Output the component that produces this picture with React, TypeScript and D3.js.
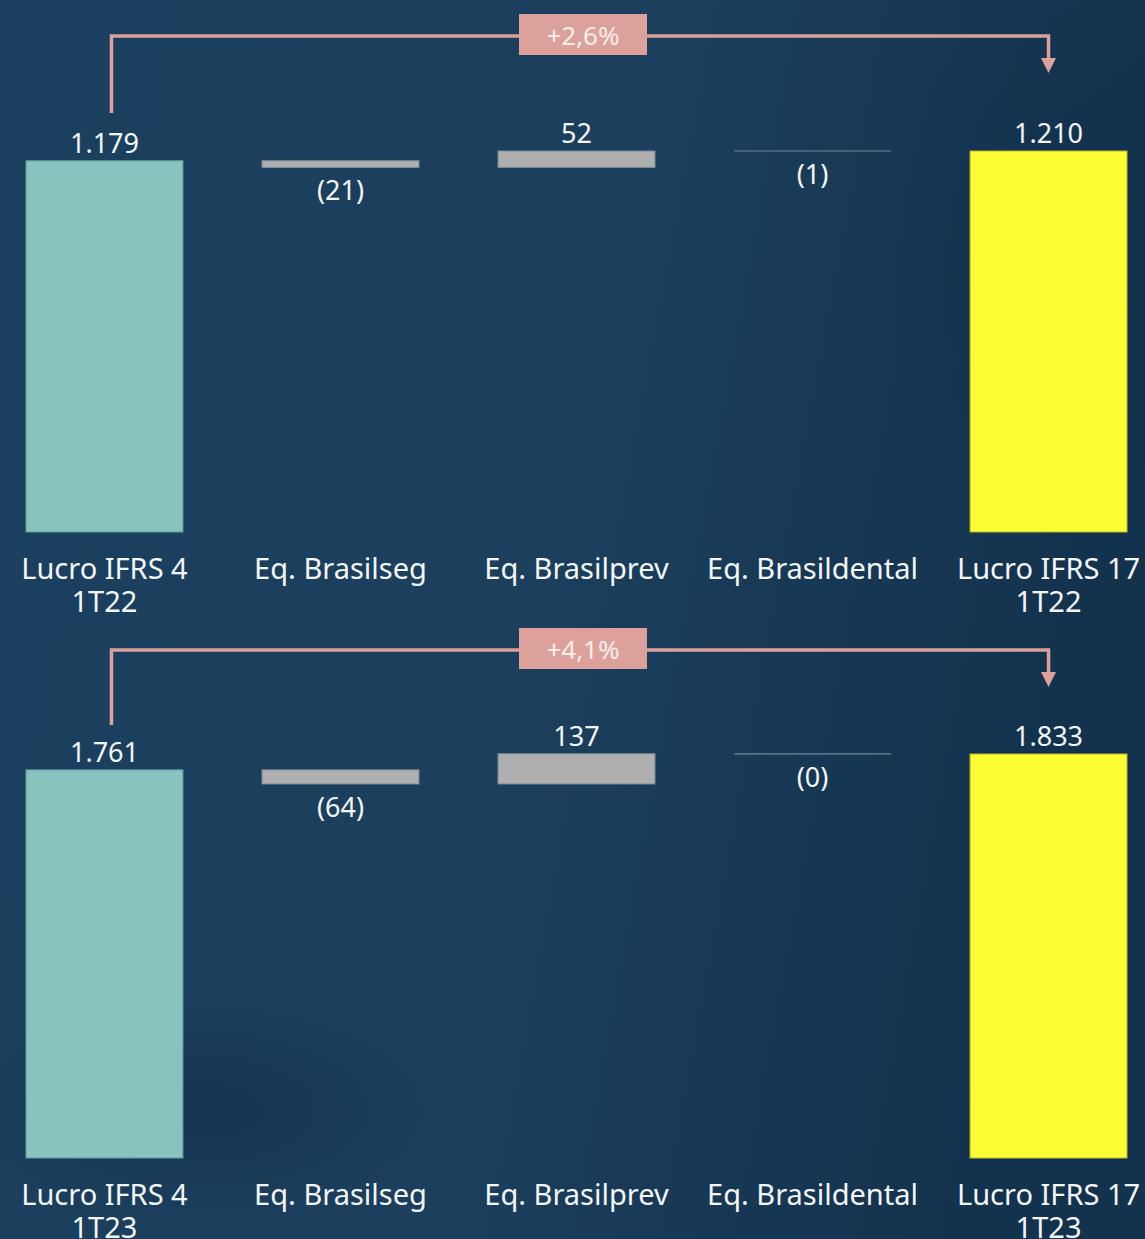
import React, { useMemo } from 'react'
import * as d3 from 'd3'

const categories = ['Lucro IFRS 4', 'Eq. Brasilseg', 'Eq. Brasilprev', 'Eq. Brasildental', 'Lucro IFRS 17']
const kinds = ['total', 'delta', 'delta', 'delta', 'total']
const periods = ['1T22', '1T23']
const values1T22 = [1179, -21, 52, -1, 1210]
const values1T23 = [1761, -64, 137, -0.4, 1833]
const changeLabels = ['+2,6%', '+4,1%']

const width = 1145
const height = 1239

// layout of each waterfall panel (pixels)
const panels = [
  { period: periods[0], values: values1T22, change: changeLabels[0], base: 532, top: 151, arrowY: 36, arrowStart: 113, arrowTip: 73, labelY: 579 },
  { period: periods[1], values: values1T23, change: changeLabels[1], base: 1158, top: 754, arrowY: 650, arrowStart: 725, arrowTip: 687, labelY: 1205 }
]

const colors = {
  start: '#89c3bd',
  startStroke: '#5e9c9c',
  end: '#fdfd33',
  endStroke: '#b9b92a',
  delta: '#afafaf',
  deltaStroke: '#7f8e9a',
  arrow: '#dca19b',
  text: '#f4f6f8'
}

const ptBR = d3.formatLocale({ decimal: ',', thousands: '.', grouping: [3], currency: ['R$ ', ''] })
const fmt = ptBR.format(',.0f')

function formatValue(v: number) {
  return v < 0 ? `(${fmt(Math.abs(v))})` : fmt(v)
}

const font = '"Noto Sans", "Open Sans", sans-serif'

function Panel({ panel }: { panel: typeof panels[number] }) {
  const x = useMemo(() => d3.scaleBand<string>().domain(categories).range([26, 1127]).paddingInner(0.335).paddingOuter(0), [])

  const chart = useMemo(() => {
    const max = d3.max(panel.values, (v, i) => (kinds[i] === 'total' ? v : 0)) as number
    const y = d3.scaleLinear().domain([0, max]).range([panel.base, panel.top])
    let running = 0
    const bars = panel.values.map((v, i) => {
      let y0: number
      let y1: number
      if (kinds[i] === 'total') {
        y0 = 0
        y1 = v
        running = v
      } else {
        y0 = running
        y1 = running + v
        running = y1
      }
      return { category: categories[i], kind: kinds[i], value: v, y0, y1, index: i }
    })
    return { y, bars }
  }, [panel])

  const bw = x.bandwidth()
  const cx = (c: string) => (x(c) as number) + bw / 2
  const startX = cx(categories[0]) + 7
  const endX = cx(categories[categories.length - 1])
  const midX = (startX + endX) / 2 + 3

  return (
    <g>
      {chart.bars.map(b => {
        const yTop = chart.y(Math.max(b.y0, b.y1))
        const yBot = chart.y(Math.min(b.y0, b.y1))
        const h = yBot - yTop
        const fill = b.index === 0 ? colors.start : b.kind === 'total' ? colors.end : colors.delta
        const stroke = b.index === 0 ? colors.startStroke : b.kind === 'total' ? colors.endStroke : colors.deltaStroke
        const labelY = b.value < 0 ? yBot + 33 : yTop - 8
        return (
          <g key={b.category}>
            {h < 1.5 ? (
              <line x1={x(b.category)} x2={(x(b.category) as number) + bw} y1={yTop} y2={yTop} stroke="#6f8799" strokeWidth={1.2} />
            ) : (
              <rect x={x(b.category)} y={yTop} width={bw} height={h} fill={fill} stroke={stroke} strokeWidth={1} />
            )}
            <text x={cx(b.category)} y={labelY} textAnchor="middle" fill={colors.text} fontSize={27} fontFamily={font}>
              {formatValue(b.value)}
            </text>
            <text x={cx(b.category)} y={panel.labelY} textAnchor="middle" fill={colors.text} fontSize={29} fontFamily={font}>
              {b.category}
            </text>
            {b.kind === 'total' && (
              <text x={cx(b.category)} y={panel.labelY + 33} textAnchor="middle" fill={colors.text} fontSize={29} fontFamily={font}>
                {panel.period}
              </text>
            )}
          </g>
        )
      })}
      <path
        d={`M${startX},${panel.arrowStart}V${panel.arrowY}H${endX}V${panel.arrowTip - 14}`}
        fill="none"
        stroke={colors.arrow}
        strokeWidth={3.5}
      />
      <path d={`M${endX - 7.5},${panel.arrowTip - 15}L${endX + 7.5},${panel.arrowTip - 15}L${endX},${panel.arrowTip}Z`} fill={colors.arrow} />
      <rect x={midX - 64} y={panel.arrowY - 22} width={128} height={41} fill={colors.arrow} />
      <text x={midX} y={panel.arrowY + 9} textAnchor="middle" fill="#fbeeec" fontSize={26} fontFamily={font}>
        {panel.change}
      </text>
    </g>
  )
}

export default function App() {
  return (
    <div style={{ position: 'absolute', left: 0, top: 0 }}>
      <svg width={width} height={height} viewBox={`0 0 ${width} ${height}`} style={{ display: 'block' }}>
        <defs>
          <linearGradient id="bg" x1="0" y1="0" x2="1" y2="0.2">
            <stop offset="0" stopColor="#1b3f5e" />
            <stop offset="0.55" stopColor="#1b3f5d" />
            <stop offset="1" stopColor="#13324e" />
          </linearGradient>
          <radialGradient id="shade" cx="0.5" cy="0.5" r="0.5">
            <stop offset="0" stopColor="#0f2d48" stopOpacity="0.55" />
            <stop offset="1" stopColor="#0f2d48" stopOpacity="0" />
          </radialGradient>
        </defs>
        <rect x={0} y={0} width={width} height={height} fill="url(#bg)" />
        <ellipse cx={200} cy={1110} rx={260} ry={120} fill="url(#shade)" />
        <ellipse cx={1060} cy={250} rx={180} ry={260} fill="url(#shade)" />
        {panels.map(p => (
          <Panel key={p.period} panel={p} />
        ))}
      </svg>
    </div>
  )
}
